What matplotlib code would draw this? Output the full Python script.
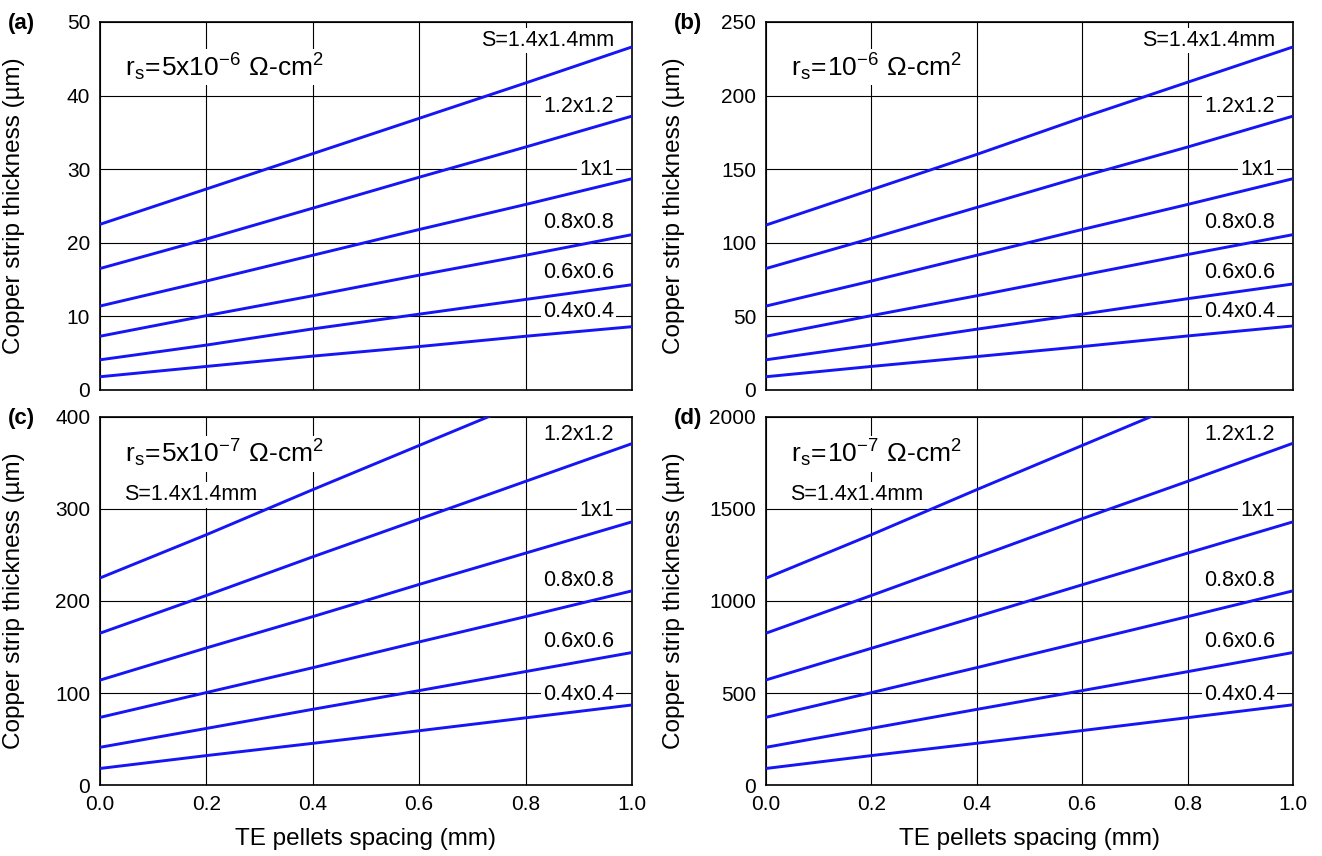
import matplotlib.pyplot as plt

plt.rcParams['font.family'] = ['Liberation Sans', 'DejaVu Sans']

spacing = [0.0, 0.2, 0.4, 0.6, 0.8, 1.0]
sizes = ['S=1.4x1.4mm', '1.2x1.2', '1x1', '0.8x0.8', '0.6x0.6', '0.4x0.4']

# copper strip thickness (um) read at spacing = 0, 0.2, ... 1.0
thick_a = [
    [22.5, 27.3, 32.1, 36.9, 41.7, 46.6],
    [16.5, 20.5, 24.7, 28.9, 33.0, 37.2],
    [11.4, 14.8, 18.3, 21.8, 25.2, 28.7],
    [7.3, 10.1, 12.8, 15.6, 18.3, 21.1],
    [4.1, 6.1, 8.3, 10.3, 12.3, 14.3],
    [1.8, 3.2, 4.6, 5.9, 7.3, 8.6],
]
thick_b = [
    [112, 136, 160, 185, 209, 233],
    [82.5, 103, 124, 145, 165, 186],
    [57, 74, 91.5, 109, 126, 143.5],
    [36.5, 50.5, 64, 78, 92, 105.5],
    [20.5, 30.6, 41.3, 51.5, 62, 72],
    [9, 16, 22.7, 29.5, 36.7, 43.5],
]
thick_c = [
    [225, 272, 321, 369, 417, 466],
    [165, 206, 248, 289, 330, 371],
    [114, 149, 183, 218, 252, 286],
    [73.5, 100.5, 127.5, 155.5, 183, 211],
    [41, 61.5, 82.3, 102.6, 123.3, 144],
    [18, 32, 45.3, 59, 73, 87],
]
thick_d = [
    [1124, 1360, 1605, 1845, 2085, 2330],
    [825, 1030, 1238, 1447, 1650, 1857],
    [571, 743, 915, 1088, 1260, 1430],
    [368, 502, 638, 777, 915, 1055],
    [205, 308, 411, 513, 616, 720],
    [90, 160, 227, 296, 366, 436],
]

panels = [
    ('(a)', thick_a, 50, [0, 10, 20, 30, 40, 50], r'$\mathregular{r_s\!=\!5x10^{-6}\ \Omega}$-cm$\mathregular{^2}$'),
    ('(b)', thick_b, 250, [0, 50, 100, 150, 200, 250], r'$\mathregular{r_s\!=\!10^{-6}\ \Omega}$-cm$\mathregular{^2}$'),
    ('(c)', thick_c, 400, [0, 100, 200, 300, 400], r'$\mathregular{r_s\!=\!5x10^{-7}\ \Omega}$-cm$\mathregular{^2}$'),
    ('(d)', thick_d, 2000, [0, 500, 1000, 1500, 2000], r'$\mathregular{r_s\!=\!10^{-7}\ \Omega}$-cm$\mathregular{^2}$'),
]

rects = [
    [0.0756, 0.5444, 0.4024, 0.430],
    [0.5794, 0.5444, 0.3986, 0.430],
    [0.0756, 0.0829, 0.4024, 0.430],
    [0.5794, 0.0829, 0.3986, 0.430],
]

# label heights (axes fraction) for the upper row and lower row
lab_top = [0.95, 0.77, 0.598, 0.454, 0.32, 0.212]
lab_bot = [0.788, 0.951, 0.745, 0.557, 0.391, 0.245]

fig = plt.figure(figsize=(13.22, 8.56), dpi=100)
white = dict(facecolor='white', edgecolor='none', pad=1.5)

for i, (tag, data, ymax, yt, rs) in enumerate(panels):
    ax = fig.add_axes(rects[i])
    for row in data:
        ax.plot(spacing, row, color='#1515f5', lw=2.1, zorder=4, solid_capstyle='butt')
    ax.set_xlim(0, 1)
    ax.set_ylim(0, ymax)
    ax.set_xticks([0.0, 0.2, 0.4, 0.6, 0.8, 1.0])
    ax.set_yticks(yt)
    ax.grid(True, color='black', lw=0.8, zorder=1)
    ax.set_axisbelow(True)
    ax.tick_params(length=0, labelsize=15, pad=7)
    for s in ax.spines.values():
        s.set_linewidth(1.2)
    ax.set_ylabel('Copper strip thickness (µm)', fontsize=17.5)
    ax.yaxis.set_label_coords(-0.141 if i % 2 == 0 else -0.154, 0.5)
    if i < 2:
        ax.set_xticklabels([])
        ax.text(0.047, 0.878, rs, transform=ax.transAxes, fontsize=19,
                va='center', ha='left', bbox=white, zorder=3)
        for name, yy in zip(sizes, lab_top):
            ax.text(0.966, yy, name, transform=ax.transAxes, fontsize=15.5,
                    ha='right', va='center', bbox=white, zorder=3)
    else:
        ax.set_xticklabels(['0.0', '0.2', '0.4', '0.6', '0.8', '1.0'])
        ax.set_xlabel('TE pellets spacing (mm)', fontsize=17.5, labelpad=10)
        ax.text(0.047, 0.90, rs, transform=ax.transAxes, fontsize=19,
                va='center', ha='left', bbox=white, zorder=3)
        ax.text(0.045, lab_bot[0], sizes[0], transform=ax.transAxes, fontsize=15.5,
                ha='left', va='center', bbox=white, zorder=3)
        for name, yy in zip(sizes[1:], lab_bot[1:]):
            ax.text(0.966, yy, name, transform=ax.transAxes, fontsize=15.5,
                    ha='right', va='center', bbox=white, zorder=3)
    fig.text(rects[i][0] - 0.070, rects[i][1] + rects[i][3] - 0.002, tag,
             fontsize=16, fontweight='bold', va='center', ha='left')

fig.savefig('out.png', dpi=100)
